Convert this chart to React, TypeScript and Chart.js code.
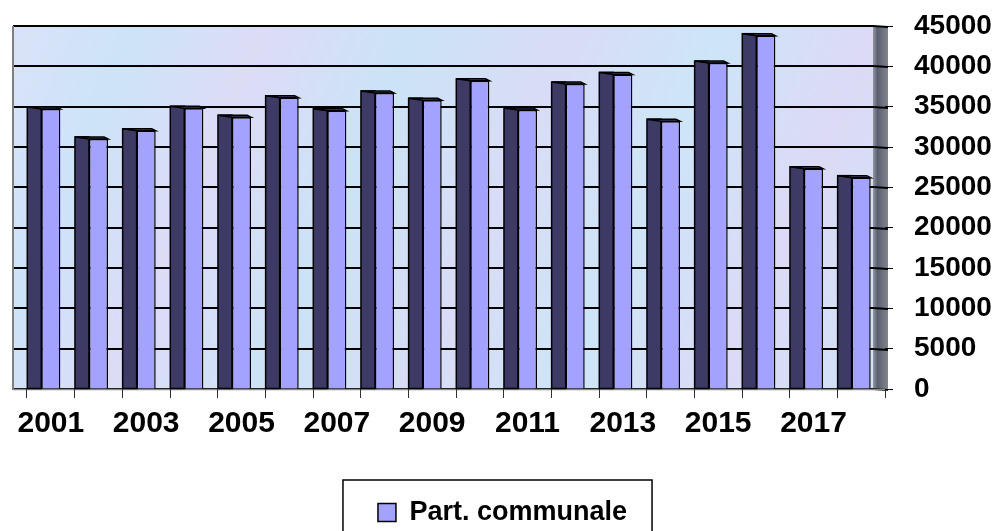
import { useEffect, useRef } from 'react';
import { Chart, registerables } from 'chart.js';

Chart.register(...registerables);

const years = ['2001', '2002', '2003', '2004', '2005', '2006', '2007', '2008', '2009', '2010', '2011', '2012', '2013', '2014', '2015', '2016', '2017', '2018'];
const partCommunale = [34700, 31000, 32000, 34800, 33700, 36100, 34500, 36700, 35800, 38200, 34600, 37800, 39000, 33200, 40400, 43800, 27300, 26200];
const seriesLabel = 'Part. communale';
const yMin = 0;
const yMax = 45000;
const yStep = 5000;

const FONT = 'Arial, "Liberation Sans", sans-serif';
const LIGHT = '#a3a3ff';
const DARK = '#3d3a66';

const wallPlugin = {
  id: 'wall3d',
  beforeDraw(chart: any) {
    const { ctx, chartArea } = chart;
    const ys = chart.scales.y;
    const left = chartArea.left - 14;
    const right = chartArea.right - 12;
    const top = chartArea.top;
    const bottom = chartArea.bottom;
    ctx.save();
    ctx.fillStyle = '#ffffff';
    ctx.fillRect(0, 0, chart.width, chart.height);
    // back wall texture
    const g = ctx.createLinearGradient(left, top, right, bottom);
    g.addColorStop(0, '#dae2f8');
    g.addColorStop(0.12, '#cde4f6');
    g.addColorStop(0.25, '#dcdcf5');
    g.addColorStop(0.4, '#cbe3f6');
    g.addColorStop(0.55, '#d9dcf6');
    g.addColorStop(0.7, '#cde5f7');
    g.addColorStop(0.85, '#dcdaf4');
    g.addColorStop(1, '#cfe3f6');
    ctx.fillStyle = g;
    ctx.fillRect(left, top, right - left, bottom - top);
    // right side wall
    const rg = ctx.createLinearGradient(right, 0, chartArea.right + 3, 0);
    rg.addColorStop(0, '#9297a2');
    rg.addColorStop(0.3, '#5b6070');
    rg.addColorStop(1, '#80858f');
    ctx.fillStyle = rg;
    ctx.fillRect(right, top, chartArea.right + 3 - right, bottom - top + 1);
    // grid lines
    ctx.strokeStyle = '#000';
    ctx.lineWidth = 2;
    for (let v = yMin; v <= yMax; v += yStep) {
      const y = Math.round(ys.getPixelForValue(v));
      ctx.beginPath();
      ctx.moveTo(left, y);
      ctx.lineTo(right, y);
      ctx.lineTo(chartArea.right + 3, y + 1);
      ctx.stroke();
    }
    // left border
    ctx.strokeStyle = '#7f7f7f';
    ctx.lineWidth = 2;
    ctx.beginPath();
    ctx.moveTo(left, bottom + 1);
    ctx.lineTo(left, top);
    ctx.stroke();
    // floor edge
    ctx.strokeStyle = '#8a8a8a';
    ctx.lineWidth = 1.5;
    ctx.beginPath();
    ctx.moveTo(left, bottom + 0.5);
    ctx.lineTo(chartArea.right + 3, bottom + 0.5);
    ctx.stroke();
    ctx.restore();
  },
  afterDatasetsDraw(chart: any) {
    const { ctx } = chart;
    const meta = chart.getDatasetMeta(0);
    ctx.save();
    meta.data.forEach((bar: any) => {
      const p = bar.getProps(['x', 'y', 'base', 'width'], true);
      const l = p.x - p.width / 2;
      const r = p.x + p.width / 2;
      const dl = l - 14;
      // dark side face
      ctx.fillStyle = DARK;
      ctx.fillRect(dl, p.y - 2, 14, p.base - p.y + 2);
      ctx.strokeStyle = '#000';
      ctx.lineWidth = 1.5;
      ctx.strokeRect(dl, p.y - 2, 14, p.base - p.y + 2);
      // top cap
      ctx.fillStyle = '#52507c';
      ctx.beginPath();
      ctx.moveTo(dl, p.y - 2);
      ctx.lineTo(r - 4, p.y - 2);
      ctx.lineTo(r, p.y);
      ctx.lineTo(l, p.y);
      ctx.closePath();
      ctx.fill();
      ctx.stroke();
    });
    ctx.restore();
  },
  afterDraw(chart: any) {
    const { ctx } = chart;
    const lg = chart.legend;
    if (!lg || !lg.legendHitBoxes || !lg.legendHitBoxes.length) return;
    const hb = lg.legendHitBoxes[0];
    ctx.save();
    ctx.strokeStyle = '#000';
    ctx.lineWidth = 1.5;
    ctx.strokeRect(hb.left - 35, hb.top - 19, hb.width + 60, 80);
    ctx.restore();
  },
};

export default function App() {
  const ref = useRef<HTMLCanvasElement>(null);
  useEffect(() => {
    const chart = new Chart(ref.current as HTMLCanvasElement, {
      type: 'bar',
      data: {
        labels: years,
        datasets: [
          {
            label: seriesLabel,
            data: partCommunale,
            backgroundColor: LIGHT,
            borderColor: '#000',
            borderWidth: 1.5,
            categoryPercentage: 1,
            barPercentage: 0.4,
            yAxisID: 'y',
          },
        ],
      },
      options: {
        responsive: false,
        animation: false,
        layout: { padding: { left: 0, top: 26, right: 0, bottom: -5 } },
        plugins: {
          tooltip: { enabled: false },
          legend: {
            display: true,
            position: 'bottom',
            labels: {
              color: '#000',
              font: { family: FONT, size: 27, weight: 'bold' },
              boxWidth: 18,
              boxHeight: 18,
              padding: 10,
              generateLabels: () => [
                {
                  text: seriesLabel,
                  fillStyle: LIGHT,
                  strokeStyle: '#000',
                  lineWidth: 1.5,
                  hidden: false,
                  datasetIndex: 0,
                },
              ],
            },
          },
        },
        scales: {
          x: {
            grid: { display: true, drawOnChartArea: false, drawTicks: true, tickLength: 9, color: '#333', offset: true },
            border: { display: false },
            ticks: {
              autoSkip: false,
              maxRotation: 0,
              padding: 8,
              color: '#000',
              font: { family: FONT, size: 30, weight: 'bold' },
              callback: function (this: any, value: any, index: number) {
                return index % 2 === 0 ? this.getLabelForValue(value) : '';
              },
            },
            afterFit: (scale: any) => {
              const lh = scale.chart.legend ? scale.chart.legend.height : 46;
              scale.height = 531 - 389 - lh + 5;
            },
          },
          y: {
            position: 'right',
            min: yMin,
            max: yMax,
            grid: { display: true, drawOnChartArea: false, drawTicks: true, tickLength: 8, color: '#000' },
            border: { display: false },
            ticks: {
              stepSize: yStep,
              padding: 21,
              color: '#000',
              font: { family: FONT, size: 28, weight: 'bold' },
              callback: (v: any) => String(v),
            },
            afterFit: (scale: any) => {
              scale.width = 120;
              scale.paddingTop = 0;
              scale.paddingBottom = 0;
            },
          },
          spacer: {
            type: 'linear',
            position: 'left',
            display: true,
            min: 0,
            max: 1,
            grid: { display: false, drawTicks: false },
            border: { display: false },
            ticks: { display: false },
            afterFit: (scale: any) => {
              scale.width = 27;
              scale.paddingTop = 0;
              scale.paddingBottom = 0;
            },
          },
        },
      },
      plugins: [wallPlugin],
    } as any);
    return () => chart.destroy();
  }, []);
  return (
    <div style={{ position: 'absolute', left: 0, top: 0, width: 1005, height: 531 }}>
      <canvas ref={ref} width={1005} height={531} />
    </div>
  );
}
